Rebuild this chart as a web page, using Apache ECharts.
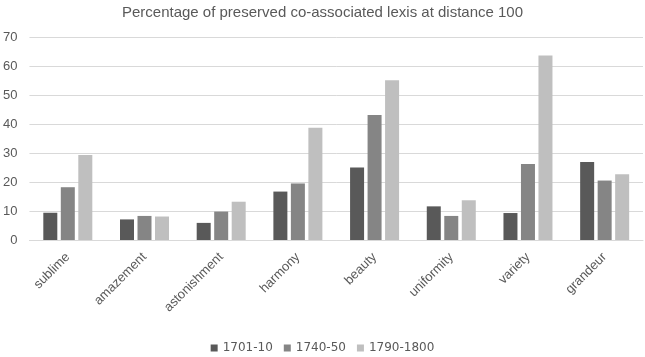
<!DOCTYPE html>
<html><head><meta charset="utf-8">
<script src="https://cdn.jsdelivr.net/npm/echarts@6/dist/echarts.min.js"></script>
<style>html,body{margin:0;padding:0;background:#fff}#c{width:645px;height:357px}</style>
</head><body><div id="c"></div>
<script>
const categories = ['sublime','amazement','astonishment','harmony','beauty','uniformity','variety','grandeur'];
const s1701 = [9.4, 7.1, 5.9, 16.7, 25.0, 11.6, 9.3, 26.9];
const s1740 = [18.2, 8.3, 9.8, 19.5, 43.1, 8.3, 26.2, 20.5];
const s1790 = [29.3, 8.1, 13.2, 38.7, 55.1, 13.7, 63.6, 22.7];
const seriesNames = ['1701-10','1740-50','1790-1800'];
const colors = ['#595959','#858585','#bfbfbf'];
const FONT = 'Liberation Sans';
const chart = echarts.init(document.getElementById('c'));
const mk = (name, data, c) => ({name, type:'bar', data, barWidth:14, barGap:'25%', itemStyle:{color:c}});
chart.setOption({
  animation:false,
  textStyle:{fontFamily:FONT},
  title:{text:'Percentage of preserved co-associated lexis at distance 100', left:'center', top:0,
    textStyle:{fontFamily:FONT, fontSize:15, fontWeight:'normal', color:'#595959'}},
  legend:{top:342, left:'center', itemWidth:7, itemHeight:7, itemGap:11, icon:'rect', padding:0,
    textStyle:{fontFamily:'DejaVu Sans', fontSize:12, color:'#595959'}, data:seriesNames},
  grid:{left:28, right:2, top:37, bottom:117, containLabel:false},
  xAxis:{type:'category', data:categories,
    axisLine:{lineStyle:{color:'#d9d9d9'}}, axisTick:{show:false},
    axisLabel:{rotate:45, color:'#595959', fontSize:13, fontFamily:FONT, margin:15, interval:0}},
  yAxis:{type:'value', min:0, max:70, interval:10,
    axisLine:{show:false}, axisTick:{show:false},
    splitLine:{lineStyle:{color:'#d9d9d9'}},
    axisLabel:{color:'#595959', fontSize:13, fontFamily:FONT, margin:12}},
  series:[mk(seriesNames[0], s1701, colors[0]), mk(seriesNames[1], s1740, colors[1]), mk(seriesNames[2], s1790, colors[2])]
});
</script></body></html>
